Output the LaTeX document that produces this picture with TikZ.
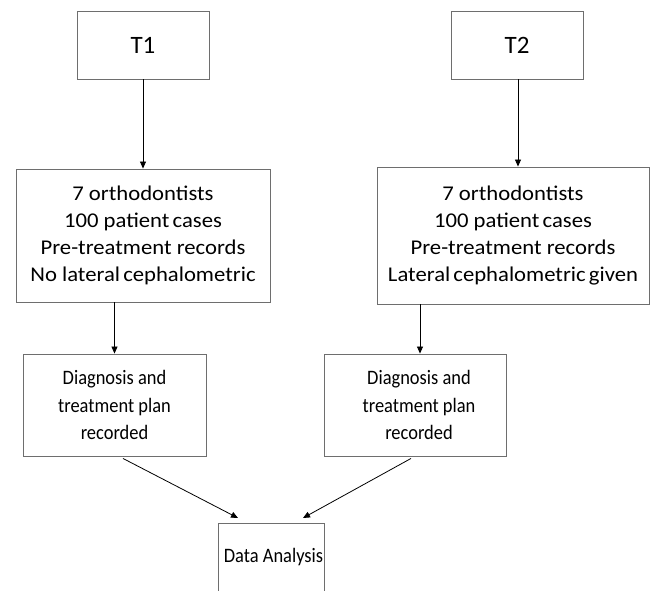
\documentclass[tikz,border=0pt]{standalone}
\usepackage{fontspec}
\setmainfont{Carlito}
\newfontfamily\widefont[FakeStretch=1.08]{Carlito}
\newfontfamily\narrowfont[FakeStretch=0.9]{Carlito}
\usetikzlibrary{arrows.meta,calc}
\definecolor{boxgray}{RGB}{110,110,110}
\begin{document}
\begin{tikzpicture}[x=1pt,y=-1pt,
  box/.style={draw=boxgray, line width=0.9pt, inner sep=0pt, align=center},
  toptext/.style={font=\fontsize{25}{30}\selectfont},
  midtext/.style={font=\widefont\fontsize{21}{27}\selectfont},
  lowtext/.style={font=\narrowfont\fontsize{20.5}{27.5}\selectfont},
  conn/.style={draw=black, line width=0.8pt, -{Triangle[length=7pt,width=6pt]}}]
\clip (0,0) rectangle (651,590);
\fill[white] (0,0) rectangle (651,590);
\node[box, toptext, minimum width=132, minimum height=68] (t1) at (143,45) {T1};
\node[box, toptext, minimum width=132, minimum height=68] (t2) at (517,45) {T2};
\node[box, midtext, minimum width=254, minimum height=133] (a) at (143,235.5)
  {7 orthodontists\\100 patient\hspace{-2pt} cases\\Pre-treatment records\\No lateral\hspace{-2pt} cephalometric};
\node[box, midtext, minimum width=272, minimum height=137] (b) at (513,235.5)
  {7 orthodontists\\100 patient\hspace{-2pt} cases\\Pre-treatment records\\Lateral\hspace{-2pt} cephalometric\hspace{-2pt} given};
\node[box, lowtext, minimum width=183, minimum height=102] (c) at (114.5,405)
  {Diagnosis and\\treatment plan\\recorded};
\node[box, lowtext, minimum width=182, minimum height=102] (d) at (415,405)
  {\hspace*{8pt}Diagnosis and\\\hspace*{8pt}treatment plan\\\hspace*{8pt}recorded};
\node[box, minimum width=106, minimum height=100, anchor=north west] (da) at (218,523) {};
\node[lowtext, inner sep=0pt] (dat) at (273.5,557) {Data Analysis};
\coordinate (t2s) at ($(t2.south)+(1,0)$);
\draw[conn] (t1.south) -- (a.north);
\draw[conn] (t2s) -- (t2s |- b.north);
\draw[conn] (c.north |- a.south) -- (c.north);
\coordinate (dn) at ($(d.north)+(5,0)$);
\draw[conn] (dn |- b.south) -- (dn);
\coordinate (cs) at ($(c.south)+(8.5,2)$);
\coordinate (ds) at ($(d.south)+(-4,2)$);
\coordinate (dal) at ($(da.north west)+(20,-5)$);
\coordinate (dar) at ($(da.north west)+(85,-5)$);
\draw[conn] (cs) -- (dal);
\draw[conn] (ds) -- (dar);
\end{tikzpicture}
\end{document}
